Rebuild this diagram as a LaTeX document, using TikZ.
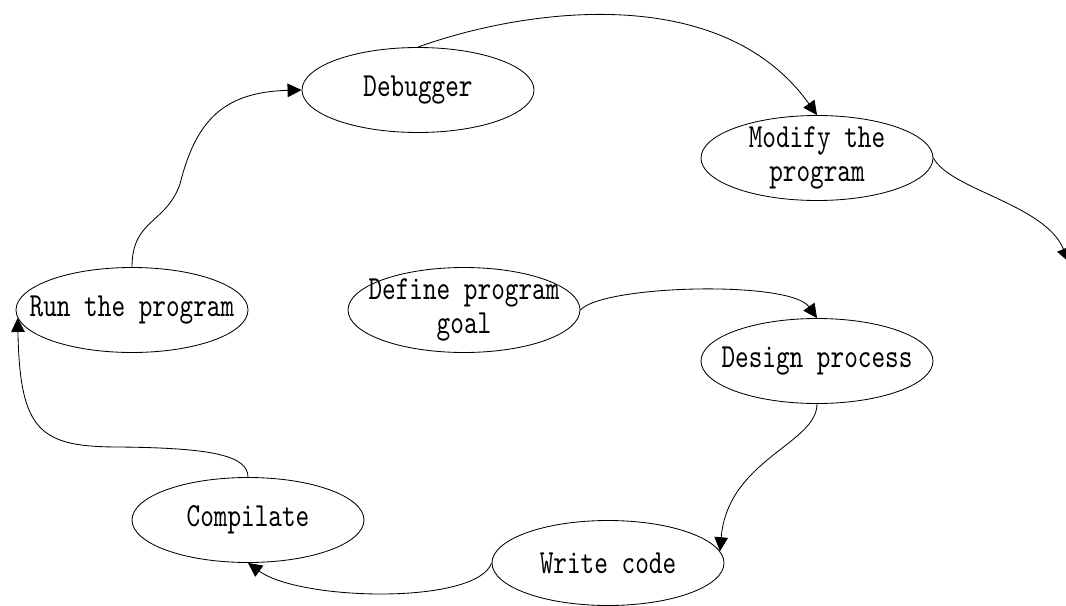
\documentclass[tikz,border=0pt]{standalone}
\usepackage{fontspec}
\usepackage{tikz}
\usetikzlibrary{shapes.geometric, arrows.meta}
\usetikzlibrary{positioning}
\usetikzlibrary{calc}
\newfontfamily\stagefont{lmmono10-regular.otf}[FakeStretch=0.77]

\begin{document}
\begin{tikzpicture}[
                stage/.style={draw, ellipse, inner xsep=-3cm, inner ysep=-3cm,
                    minimum width=5.8cm, minimum height=2.125cm, align=center,
                    font=\fontsize{24}{24.2}\selectfont\stagefont},
                >={Triangle[length=0.35cm,width=0.34cm]},
                line width=0.6pt
            ]
            \useasboundingbox (0,0) rectangle (26.65,-15.125);

            % Define nodes
            \node[stage] (dbg) at (10.45,-2.25) {Debugger};
            \node[stage] (mod) at (20.425,-3.95) {Modify the\\program};
            \node[stage] (run) at (3.3,-7.75) {Run the program};
            \node[stage] (goal) at (11.6,-7.75) {Define program\\goal};
            \node[stage] (des) at (20.425,-9.025) {Design process};
            \node[stage] (comp) at (6.2,-13.0) {Compilate};
            \node[stage] (wrt) at (15.2,-14.075) {Write code};
            \coordinate (exit) at (26.72,-6.55);

            % Arrows connecting stages
            \draw[->] (goal.east) .. controls +(0.55,0.625) and +(-0.675,0.95) .. (des.north);
            \draw[->] (des.south) .. controls +(0,-1.0) and +(0.2,2.3) .. (wrt.6);
            \draw[->] (wrt.west) .. controls +(-0.375,-1.05) and +(1.3,-0.95) .. (comp.south);
            \draw[->] (comp.north) .. controls +(0,0.55) and (5.25,-11.2) .. (3.0,-11.175)
                .. controls (1.0,-11.175) and (0.5,-10.8) .. (run.184);
            \draw[->] (run.north) .. controls +(0,1.2) and (4.15,-5.6) .. (4.5,-4.6)
                .. controls (4.9,-3.0) and (5.6,-2.3) .. (dbg.west);
            \draw[->] (dbg.north) .. controls +(2.55,0.925) and +(-2.425,3.4) .. (mod.north);
            \draw[->] (mod.east) .. controls +(0.425,-0.8) and +(-0.6,1.45) .. (exit);

        \end{tikzpicture}
\end{document}
